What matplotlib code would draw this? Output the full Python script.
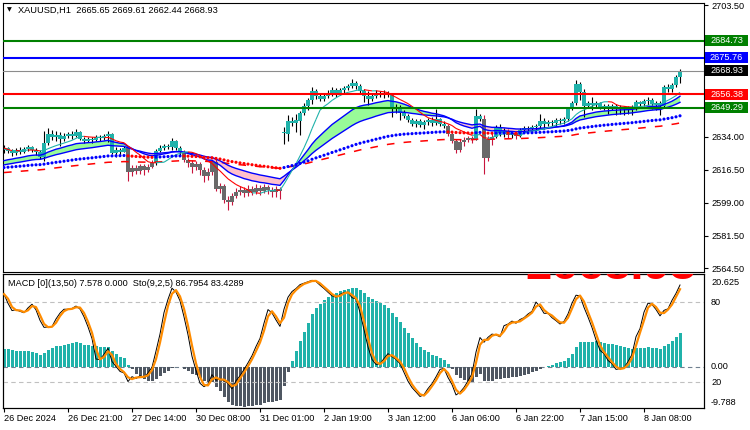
import numpy as np
import pandas as pd
import matplotlib
matplotlib.use('Agg')
import matplotlib.pyplot as plt
from matplotlib.patches import Rectangle
from matplotlib.collections import LineCollection

plt.rcParams['font.family'] = ['Liberation Sans', 'DejaVu Sans']

# XAUUSD H1 bars
opens = [2626.9, 2628.0, 2626.4, 2625.3, 2626.9, 2625.9, 2627.4, 2628.5, 2626.9, 2625.9,
         2623.2, 2630.6, 2635.4, 2633.8, 2634.8, 2632.7, 2634.3, 2635.4, 2634.3, 2636.4,
         2632.7, 2631.7, 2632.7, 2632.2, 2633.8, 2633.3, 2634.3, 2635.4, 2625.3, 2626.9,
         2625.9, 2628.0, 2615.3, 2617.4, 2615.8, 2618.5, 2616.3, 2617.9, 2620.1, 2626.4,
         2628.0, 2629.0, 2628.5, 2631.7, 2628.0, 2625.9, 2621.6, 2620.1, 2617.9, 2619.5,
         2616.3, 2613.2, 2615.3, 2620.6, 2606.3, 2607.9, 2600.5, 2599.4, 2602.6, 2604.7,
         2605.8, 2604.2, 2606.3, 2604.7, 2606.8, 2605.2, 2607.3, 2605.8, 2604.7, 2606.3,
         2636.4, 2635.4, 2642.3, 2641.2, 2642.3, 2646.5, 2650.2, 2653.4, 2658.1, 2655.5,
         2653.9, 2655.5, 2657.1, 2658.7, 2656.5, 2658.7, 2659.7, 2660.8, 2662.4, 2660.8,
         2658.1, 2655.5, 2653.9, 2655.5, 2657.1, 2656.0, 2657.1, 2656.0, 2649.1, 2649.7,
         2646.5, 2644.9, 2642.8, 2640.7, 2642.3, 2640.1, 2641.7, 2642.8, 2641.2, 2643.3,
         2640.7, 2639.6, 2635.4, 2631.7, 2626.9, 2631.1, 2632.2, 2633.3, 2632.7, 2644.9,
         2643.3, 2622.7, 2632.7, 2633.8, 2639.1, 2635.9, 2637.0, 2634.8, 2635.9, 2634.3,
         2637.5, 2638.5, 2638.0, 2639.1, 2639.6, 2642.3, 2640.7, 2641.7, 2641.2, 2642.8,
         2642.3, 2643.3, 2648.6, 2651.8, 2661.8, 2657.6, 2650.2, 2651.8, 2650.7, 2651.8,
         2649.7, 2650.2, 2649.1, 2650.2, 2648.6, 2649.7, 2648.6, 2649.1, 2649.7, 2652.3,
         2651.3, 2652.8, 2653.4, 2651.3, 2651.8, 2650.2, 2660.2, 2659.2, 2661.3, 2665.65]
highs = [2629.6, 2628.5, 2627.4, 2628.0, 2628.5, 2628.5, 2629.6, 2629.0, 2628.0, 2626.9,
         2637.0, 2638.6, 2637.5, 2637.0, 2636.4, 2635.9, 2636.4, 2637.0, 2638.0, 2637.0,
         2633.8, 2633.8, 2633.8, 2634.8, 2634.8, 2635.4, 2637.0, 2635.9, 2628.5, 2628.0,
         2629.0, 2628.5, 2619.0, 2619.0, 2619.5, 2619.5, 2619.5, 2621.6, 2627.4, 2629.6,
         2630.1, 2630.1, 2633.3, 2632.2, 2629.0, 2626.9, 2622.7, 2621.6, 2621.1, 2620.6,
         2617.9, 2617.4, 2621.6, 2622.7, 2609.5, 2608.9, 2602.6, 2604.2, 2606.8, 2607.9,
         2607.3, 2608.4, 2607.9, 2608.9, 2608.4, 2608.9, 2608.4, 2607.3, 2607.9, 2607.3,
         2639.1, 2645.4, 2644.4, 2645.9, 2647.5, 2651.8, 2654.4, 2660.2, 2659.2, 2657.1,
         2656.5, 2658.7, 2660.2, 2659.7, 2659.7, 2660.8, 2661.8, 2664.5, 2663.4, 2661.8,
         2659.2, 2658.1, 2656.5, 2658.7, 2658.1, 2658.7, 2658.1, 2657.1, 2651.3, 2650.7,
         2648.1, 2645.9, 2643.8, 2643.3, 2643.3, 2642.8, 2643.8, 2644.4, 2648.6, 2643.8,
         2642.3, 2640.7, 2636.4, 2632.7, 2632.7, 2633.8, 2634.3, 2634.3, 2648.6, 2645.9,
         2645.4, 2634.3, 2635.9, 2640.1, 2640.7, 2638.5, 2638.0, 2637.0, 2637.0, 2638.5,
         2639.6, 2639.6, 2640.1, 2640.7, 2645.9, 2643.8, 2642.8, 2642.8, 2643.8, 2643.8,
         2644.4, 2649.7, 2652.8, 2663.9, 2662.9, 2659.2, 2652.8, 2654.9, 2652.8, 2652.3,
         2651.3, 2651.3, 2651.3, 2651.3, 2650.7, 2650.2, 2650.2, 2650.7, 2653.4, 2652.8,
         2653.9, 2654.9, 2654.4, 2652.8, 2652.8, 2661.3, 2661.8, 2662.4, 2666.6, 2669.61]
lows = [2625.3, 2625.3, 2623.7, 2624.3, 2624.8, 2625.3, 2626.4, 2625.9, 2624.3, 2622.2,
        2621.1, 2629.6, 2632.2, 2631.7, 2629.0, 2631.7, 2633.3, 2632.7, 2633.8, 2632.2,
        2630.6, 2631.1, 2630.6, 2631.7, 2631.7, 2632.2, 2631.1, 2624.8, 2623.2, 2624.3,
        2625.9, 2610.5, 2613.2, 2614.2, 2614.2, 2613.7, 2615.2, 2617.4, 2619.0, 2625.9,
        2626.9, 2627.4, 2626.9, 2626.9, 2624.3, 2620.6, 2617.9, 2614.7, 2616.3, 2613.7,
        2610.0, 2611.0, 2613.7, 2605.2, 2604.2, 2598.9, 2595.2, 2597.8, 2601.5, 2603.1,
        2602.1, 2602.6, 2603.1, 2603.6, 2603.1, 2604.2, 2603.6, 2602.1, 2602.1, 2601.0,
        2630.1, 2631.7, 2639.6, 2636.4, 2634.8, 2645.4, 2648.1, 2651.3, 2653.9, 2652.8,
        2652.8, 2654.4, 2655.5, 2654.9, 2656.0, 2657.1, 2658.7, 2659.7, 2659.2, 2657.1,
        2652.3, 2650.7, 2652.8, 2654.4, 2654.9, 2654.4, 2654.9, 2644.4, 2646.5, 2642.8,
        2643.8, 2641.7, 2639.6, 2639.1, 2639.1, 2638.0, 2640.1, 2639.6, 2640.1, 2639.6,
        2638.5, 2634.3, 2630.6, 2625.3, 2625.9, 2629.0, 2631.1, 2630.6, 2632.2, 2642.3,
        2614.2, 2621.1, 2629.6, 2633.3, 2634.3, 2633.8, 2633.3, 2633.3, 2632.7, 2633.8,
        2635.9, 2637.0, 2637.0, 2637.0, 2638.0, 2638.0, 2639.6, 2639.6, 2639.6, 2640.7,
        2640.7, 2642.3, 2648.1, 2650.7, 2653.4, 2644.4, 2649.1, 2648.1, 2649.7, 2648.6,
        2648.1, 2645.9, 2648.1, 2645.4, 2645.9, 2645.4, 2645.9, 2645.4, 2648.1, 2649.7,
        2650.2, 2650.7, 2648.6, 2648.1, 2645.4, 2649.7, 2657.6, 2657.6, 2660.2, 2662.44]
closes = [2628.0, 2626.4, 2625.3, 2626.9, 2625.9, 2627.4, 2628.5, 2626.9, 2625.9, 2623.2,
          2630.6, 2635.4, 2633.8, 2634.8, 2632.7, 2634.3, 2635.4, 2634.3, 2636.4, 2632.7,
          2631.7, 2632.7, 2632.2, 2633.8, 2633.3, 2634.3, 2635.4, 2625.3, 2626.9, 2625.9,
          2628.0, 2615.3, 2617.4, 2615.8, 2618.5, 2616.3, 2617.9, 2620.1, 2626.4, 2628.0,
          2629.0, 2628.5, 2631.7, 2628.0, 2625.9, 2621.6, 2620.1, 2617.9, 2619.5, 2616.3,
          2613.2, 2615.3, 2620.6, 2606.3, 2607.9, 2600.5, 2599.4, 2602.6, 2604.7, 2605.8,
          2604.2, 2606.3, 2604.7, 2606.8, 2605.2, 2607.3, 2605.8, 2604.7, 2606.3, 2605.2,
          2635.9, 2642.3, 2641.2, 2642.8, 2646.5, 2650.2, 2653.4, 2658.1, 2655.5, 2653.9,
          2655.5, 2657.1, 2658.7, 2656.5, 2658.7, 2659.7, 2660.8, 2662.4, 2660.8, 2658.1,
          2655.5, 2653.9, 2655.5, 2657.1, 2656.0, 2657.1, 2656.0, 2649.1, 2649.7, 2646.5,
          2644.9, 2642.8, 2640.7, 2642.3, 2640.1, 2641.7, 2642.8, 2641.2, 2643.3, 2640.7,
          2639.6, 2635.4, 2631.7, 2626.9, 2631.1, 2632.2, 2633.3, 2632.7, 2644.9, 2643.3,
          2622.7, 2632.7, 2633.8, 2639.1, 2635.9, 2637.0, 2634.8, 2635.9, 2634.3, 2637.5,
          2638.5, 2638.0, 2639.1, 2639.6, 2642.3, 2640.7, 2641.7, 2641.2, 2642.8, 2642.3,
          2643.3, 2648.6, 2651.8, 2661.8, 2657.6, 2650.2, 2651.8, 2650.7, 2651.8, 2649.7,
          2650.2, 2649.1, 2650.2, 2648.6, 2649.7, 2648.6, 2649.1, 2649.7, 2652.3, 2651.3,
          2652.8, 2653.4, 2651.3, 2651.8, 2650.2, 2660.2, 2659.2, 2661.3, 2665.5, 2668.93]

# indicator state at the left edge of the window (history before it is not shown)
fast_start, slow_start, dots_start, dashed_start = 2620.6, 2618.5, 2617.4, 2614.8
macd_fast_start, macd_slow_start = 2626.0, 2621.6
sto_prior_high, sto_prior_low = 2628.6, 2618.0

date_bars = [0, 16, 32, 48, 64, 80, 96, 112, 128, 144, 160]
date_labels = ['26 Dec 2024', '26 Dec 21:00', '27 Dec 14:00', '30 Dec 08:00', '31 Dec 01:00',
               '2 Jan 19:00', '3 Jan 12:00', '6 Jan 06:00', '6 Jan 22:00', '7 Jan 15:00',
               '8 Jan 08:00']
price_ticks = [2703.50, 2686.00, 2668.50, 2651.00, 2634.00, 2616.50, 2599.00, 2581.50, 2564.50]
levels = [2684.73, 2675.76, 2668.93, 2656.38, 2649.29]
macd_scale_labels = [20.625, 0.0, -9.788]
sto_levels = [80, 20]
big_label = '2668.93'

TEAL = '#20b2aa'
GRAY = '#696969'
WICK_DN = '#c8143c'
LEVEL_COLORS = ['#008000', '#0000ff', '#000000', '#ff0000', '#008000']
FS = 6.6


def ema(values, period, start):
    a = 2.0 / (period + 1)
    out, v = [], start
    for x in values:
        v = v + a * (x - v)
        out.append(v)
    return np.array(out)


o = np.array(opens); h = np.array(highs); l = np.array(lows); c = np.array(closes)
n = len(c)
x = np.arange(n)

fast = ema(c, 20, fast_start)
slow = ema(c, 34, slow_start)
dots = ema(c, 90, dots_start)
dashed = ema(c, 130, dashed_start)
thin = pd.Series(c).rolling(10, min_periods=1).mean().values
macd = ema(c, 13, macd_fast_start) - ema(c, 50, macd_slow_start)

hh = pd.Series(h).rolling(9, min_periods=1).max().values
ll = pd.Series(l).rolling(9, min_periods=1).min().values
hh[:8] = np.maximum(hh[:8], sto_prior_high)
ll[:8] = np.minimum(ll[:8], sto_prior_low)
sto_k = 100 * pd.Series(c - ll).rolling(5, min_periods=1).sum() / pd.Series(hh - ll).rolling(5, min_periods=1).sum()
sto_d = sto_k.rolling(2, min_periods=1).mean()

W, H = 750, 430
fig = plt.figure(figsize=(W / 100, H / 100), dpi=100, facecolor='white')
ax = fig.add_axes([2.5 / W, 1 - 272 / H, 701.5 / W, 269.5 / H])
ax2 = fig.add_axes([2.5 / W, 1 - 408 / H, 701.5 / W, 134 / H])
ax3 = ax2.twinx()

for a in (ax, ax2, ax3):
    for s in a.spines.values():
        s.set_linewidth(0.8)
        s.set_color('black')
    a.set_xlim(-0.375, 175.0)

# --- main price window ---
ax.set_ylim(2562.4, 2704.95)
up = c >= dots
ax.fill_between(x, fast, slow, where=fast >= slow, interpolate=True, color='#98fb98', lw=0, zorder=1)
ax.fill_between(x, fast, slow, where=fast < slow, interpolate=True, color='#ffc0cb', lw=0, zorder=1)

wick_cols = ['black' if u else WICK_DN for u in up]
body_cols = [TEAL if u else GRAY for u in up]
ax.vlines(x, l, h, colors=wick_cols, lw=0.8, zorder=2)
ax.bar(x, np.maximum(np.abs(c - o), 0.45), bottom=np.minimum(o, c), width=0.78,
       color=body_cols, lw=0, zorder=2.5)

ax.plot(x, dashed, color='red', lw=1.1, ls=(0, (5, 6)), zorder=3)
ax.plot(x, fast, color='#0000ff', lw=1.0, zorder=3.5)
ax.plot(x, slow, color='#0000ff', lw=1.0, zorder=3.5)
pts = np.column_stack([x, thin]).reshape(-1, 1, 2)
segs = np.concatenate([pts[:-1], pts[1:]], axis=1)
seg_cols = [TEAL if thin[i + 1] >= thin[i] else 'red' for i in range(n - 1)]
ax.add_collection(LineCollection(segs, colors=seg_cols, linewidths=0.8, zorder=3.6))
dot_up = np.r_[True, np.diff(dots) >= 0]
ax.scatter(x, dots, s=5, c=['#0000ff' if u else 'red' for u in dot_up], lw=0, zorder=4)

for v, col in zip(levels, LEVEL_COLORS):
    if col == '#000000':
        ax.axhline(v, color='#8c8c8c', lw=0.8, zorder=5)
    else:
        ax.axhline(v, color=col, lw=1.5, zorder=5)

ax.set_xticks([])
ax.yaxis.tick_right()
ax.set_yticks(price_ticks)
# labels that sit under the level boxes are hidden, as on the terminal
ax.set_yticklabels(['' if min(abs(t - v) for v in levels) < 3 else '%.2f' % t for t in price_ticks])
ax.tick_params(axis='y', labelsize=FS, length=3, width=0.8, pad=2.5)

for v, col in zip(levels, LEVEL_COLORS):
    py = ax.transData.transform((0, v))[1] / H
    fig.add_artist(Rectangle((705 / W, py - 5.5 / H), 43 / W, 11 / H, transform=fig.transFigure,
                             facecolor=col, edgecolor='none', zorder=5))
    fig.text(726.5 / W, py, '%.2f' % v, color='white', fontsize=FS, ha='center', va='center', zorder=6)

fig.text(7 / W, 1 - 10 / H, '\u25bc', fontsize=4.5, ha='left', va='center', family='DejaVu Sans')
fig.text(18 / W, 1 - 10 / H, 'XAUUSD,H1  2665.65 2669.61 2662.44 2668.93', fontsize=6.7,
         ha='left', va='center')

# --- MACD / Stochastic window ---
ax2.set_ylim(-10.07, 22.6)
ax3.set_ylim(0.75, 101.3)
ax2.bar(x, macd, width=0.75, color=[TEAL if m > 0 else '#4f5762' for m in macd], lw=0, zorder=2)
ax2.axhline(0, color='#708090', lw=0.8, ls=(0, (4, 3)), zorder=1)
for lv in sto_levels:
    ax3.axhline(lv, color='#c0c0c0', lw=0.8, ls=(0, (4, 3)), zorder=1)
ax3.plot(x, sto_k, color='black', lw=0.7, zorder=3)
ax3.plot(x, sto_d, color='#ff8c00', lw=1.6, zorder=4)

# large price label of the main window, only its lower edge shows below the separator
ax3.text((525 - 2.5) / 701.5, (408 - 279) / 134, big_label, transform=ax3.transAxes, fontsize=34,
         fontweight='bold', color='red', ha='left', va='baseline', clip_on=True, zorder=5)

ax2.set_yticks([])
ax3.set_yticks([])
ax2.set_xticks(date_bars)
ax2.set_xticklabels(date_labels)
ax2.tick_params(axis='x', labelsize=FS, length=3, width=0.8, pad=1.5)
for lbl in ax2.get_xticklabels():
    lbl.set_ha('left')

yt2 = ax2.get_yaxis_transform()
yt3 = ax3.get_yaxis_transform()
for v in macd_scale_labels:
    txt = '%.3f' % v if v != 0 else '0.00'
    ax2.text(1.01, v, txt, transform=yt2, fontsize=FS, ha='left',
             va='bottom' if v < 0 else 'center', clip_on=False)
for lv in sto_levels:
    ax3.text(1.01, lv, str(lv), transform=yt3, fontsize=FS, ha='left', va='center', clip_on=False)

fig.text(8 / W, 1 - 283 / H, 'MACD [0](13,50) 7.578 0.000  Sto(9,2,5) 86.7954 83.4289',
         fontsize=FS, ha='left', va='center', zorder=10)

fig.savefig('out.png', dpi=100, facecolor='white')
